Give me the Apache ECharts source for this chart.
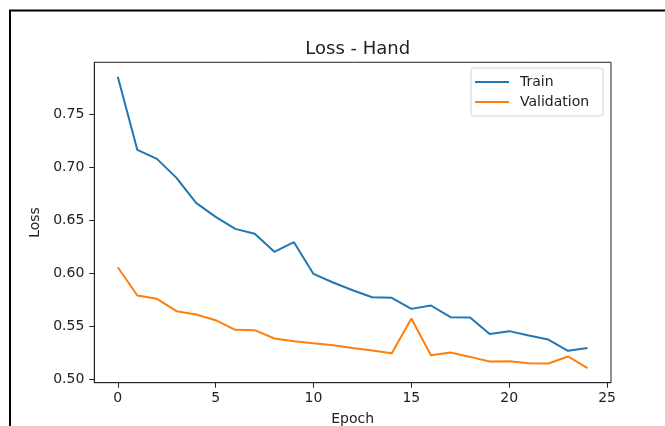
<!DOCTYPE html>
<html>
<head>
<meta charset="utf-8">
<script src="https://cdn.jsdelivr.net/npm/echarts@6/dist/echarts.min.js"></script>
<style>
html,body{margin:0;padding:0;background:#fff;}
#c{width:665px;height:426px;}
</style>
</head>
<body>
<div id="c"></div>
<script>
const epochs = [0,1,2,3,4,5,6,7,8,9,10,11,12,13,14,15,16,17,18,19,20,21,22,23,24];
const trainLoss = [0.7855,0.7166,0.7081,0.6902,0.6666,0.6534,0.6421,0.6374,0.6204,0.6295,0.5996,0.5915,0.5842,0.5776,0.5770,0.5666,0.5698,0.5588,0.5585,0.5430,0.5456,0.5415,0.5377,0.5270,0.5298];
const valLoss = [0.6059,0.5792,0.5761,0.5644,0.5613,0.5559,0.5468,0.5465,0.5387,0.5361,0.5342,0.5324,0.5298,0.5274,0.5248,0.5575,0.5229,0.5255,0.5213,0.5170,0.5173,0.5154,0.5151,0.5217,0.5107];
const xTicks = [0,5,10,15,20,25];
const yTicks = [0.50,0.55,0.60,0.65,0.70,0.75];
const seriesNames = ['Train','Validation'];
const chartTitle = 'Loss - Hand';
const xName = 'Epoch';
const yName = 'Loss';

const FONT = 'DejaVu Sans';
const TXT = '#222';

function padRange(vals){
  const lo = Math.min(...vals), hi = Math.max(...vals);
  const m = (hi - lo) * 0.05;
  return [lo - m, hi + m];
}
const xr = padRange(epochs);
const yr = padRange(trainLoss.concat(valLoss));

const chart = echarts.init(document.getElementById('c'), null, {renderer:'canvas'});
chart.setOption({
  animation:false,
  backgroundColor:'#fff',
  title:{
    text:chartTitle,
    left:352.7, top:35, textAlign:'center',
    textStyle:{fontFamily:FONT,fontSize:18,fontWeight:'normal',color:TXT}
  },
  legend:{
    data:seriesNames,
    orient:'vertical',
    left:471, top:68,
    padding:[7,14,7,4],
    itemWidth:34, itemHeight:2,
    itemGap:6,
    icon:'rect',
    borderColor:'#d3d3d3', borderWidth:1, borderRadius:3,
    backgroundColor:'rgba(255,255,255,0.8)',
    textStyle:{fontFamily:FONT,fontSize:14,color:TXT,padding:[0,0,0,6]}
  },
  grid:{
    left:94.3, right:665-611, top:62.3, bottom:426-382.7,
    show:true, borderColor:'#222', borderWidth:1, backgroundColor:'transparent',
    outerBoundsMode:'none',
    containLabel:false
  },
  xAxis:{
    type:'value', min:xr[0], max:xr[1],
    name:xName, nameLocation:'middle', nameGap:30,
    nameTextStyle:{fontFamily:FONT,fontSize:14,color:TXT},
    axisLine:{show:true,onZero:false,lineStyle:{color:'#222',width:1}},
    axisTick:{show:true,length:5,customValues:xTicks,lineStyle:{color:'#222'}},
    axisLabel:{customValues:xTicks,margin:9,fontFamily:FONT,fontSize:14,color:TXT},
    splitLine:{show:false}
  },
  yAxis:{
    type:'value', min:yr[0], max:yr[1],
    name:yName, nameLocation:'middle', nameGap:51, nameRotate:90,
    nameTextStyle:{fontFamily:FONT,fontSize:14,color:TXT},
    axisLine:{show:true,onZero:false,lineStyle:{color:'#222',width:1}},
    axisTick:{show:true,length:5,customValues:yTicks,lineStyle:{color:'#222'}},
    axisLabel:{customValues:yTicks,margin:10,fontFamily:FONT,fontSize:14,color:TXT,
      formatter:v=>v.toFixed(2)},
    splitLine:{show:false}
  },
  series:[
    {name:seriesNames[0],type:'line',symbol:'none',color:'#1f77b4',
     lineStyle:{width:2,color:'#1f77b4'},
     data:epochs.map((e,i)=>[e,trainLoss[i]])},
    {name:seriesNames[1],type:'line',symbol:'none',color:'#ff7f0e',
     lineStyle:{width:2,color:'#ff7f0e'},
     data:epochs.map((e,i)=>[e,valLoss[i]])}
  ],
  graphic:[
    {type:'rect',shape:{x:10,y:10.5,width:720,height:520},
     style:{fill:'none',stroke:'#000',lineWidth:2},silent:true,z:100}
  ]
});
</script>
</body>
</html>
